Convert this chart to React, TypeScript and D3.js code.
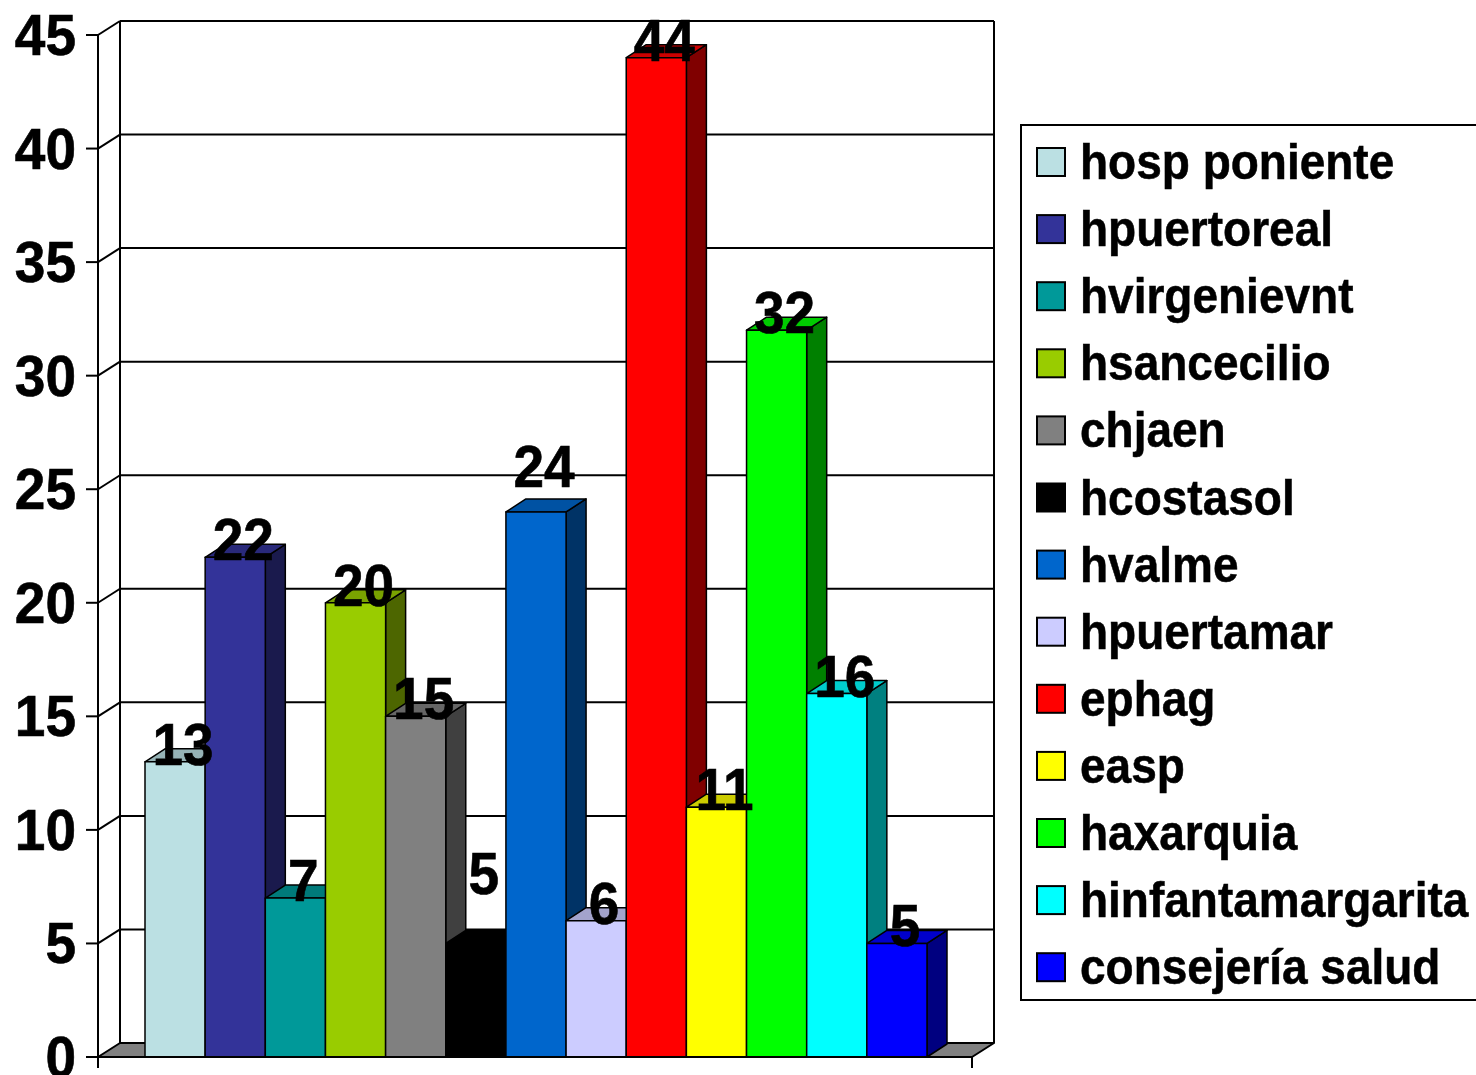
import React from "react";
import * as d3 from "d3";

const categories = [
  "hosp poniente",
  "hpuertoreal",
  "hvirgenievnt",
  "hsancecilio",
  "chjaen",
  "hcostasol",
  "hvalme",
  "hpuertamar",
  "ephag",
  "easp",
  "haxarquia",
  "hinfantamargarita",
  "consejería salud",
];
const values = [13, 22, 7, 20, 15, 5, 24, 6, 44, 11, 32, 16, 5];
const colors = [
  "#BBE0E3",
  "#333399",
  "#009999",
  "#99CC00",
  "#808080",
  "#000000",
  "#0066CC",
  "#CCCCFF",
  "#FF0000",
  "#FFFF00",
  "#00FF00",
  "#00FFFF",
  "#0000FF",
];
const yTicks = [0, 5, 10, 15, 20, 25, 30, 35, 40, 45];

const W = 1476;
const H = 1075;
const FONT = "'Liberation Sans', Arial, Helvetica, sans-serif";

// labels that the original chart placed clear of the bar top
const raisedLabels: Record<string, number> = { hcostasol: 52, hvalme: 28 };

function shade(c: string, k: number) {
  const r = d3.rgb(c);
  return d3.rgb(r.r * k, r.g * k, r.b * k).formatHex();
}

export default function App() {
  const x = d3.scaleBand<string>().domain(categories).range([145, 927]).padding(0);
  const y = d3.scaleLinear().domain([0, 45]).range([1057, 35]);
  const wdx = 22, wdy = -14; // wall depth
  const bdx = 20, bdy = -13; // bar depth
  const axisX = 98;
  const backX = axisX + wdx;
  const rightFront = 972;
  const rightBack = rightFront + wdx;

  const y0 = y(0);
  const y45 = y(45);

  const legendX = 1021;
  const legendY = 125;
  const rowH = 67.1;
  const firstRow = 162;

  return (
    <svg
      width={W}
      height={H}
      viewBox={`0 0 ${W} ${H}`}
      style={{ position: "absolute", left: 0, top: 0, background: "#fff" }}
    >
      {/* back wall gridlines */}
      {yTicks.filter((t) => t > 0).map((t) => (
        <g key={"g" + t}>
          <line x1={backX} x2={rightBack} y1={y(t) + wdy} y2={y(t) + wdy} stroke="#000" strokeWidth={2} />
          <line x1={axisX} x2={backX} y1={y(t)} y2={y(t) + wdy} stroke="#000" strokeWidth={2} />
        </g>
      ))}
      {/* wall verticals */}
      <line x1={backX} x2={backX} y1={y45 + wdy} y2={y0 + wdy} stroke="#000" strokeWidth={2} />
      <line x1={rightBack} x2={rightBack} y1={y45 + wdy} y2={y0 + wdy} stroke="#000" strokeWidth={2} />
      {/* floor */}
      <polygon
        points={`${axisX},${y0} ${rightFront},${y0} ${rightBack},${y0 + wdy} ${backX},${y0 + wdy}`}
        fill="#808080"
        stroke="#000"
        strokeWidth={2}
        strokeLinejoin="round"
      />

      {/* bars */}
      {categories.map((c, i) => {
        const x0 = x(c)!;
        const x1 = x0 + x.bandwidth();
        const yt = y(values[i]);
        const col = colors[i];
        return (
          <g key={"b" + i} stroke="#000" strokeWidth={1.5} strokeLinejoin="round">
            <polygon
              points={`${x1},${yt} ${x1 + bdx},${yt + bdy} ${x1 + bdx},${y0 + bdy} ${x1},${y0}`}
              fill={shade(col, 0.5)}
            />
            <polygon
              points={`${x0},${yt} ${x1},${yt} ${x1 + bdx},${yt + bdy} ${x0 + bdx},${yt + bdy}`}
              fill={shade(col, 0.8)}
            />
            <rect x={x0} y={yt} width={x1 - x0} height={y0 - yt} fill={col} />
          </g>
        );
      })}

      {/* bar value labels */}
      {categories.map((c, i) => {
        const cx = x(c)! + x.bandwidth() / 2 + 8;
        const lift = raisedLabels[c] ?? 0;
        const by = y(values[i]) + 3 - lift;
        return (
          <text
            key={"l" + i}
            transform={`translate(${cx},${by}) scale(1,1.07)`}
            textAnchor="middle"
            fontFamily={FONT}
            fontWeight="bold"
            fontSize={55}
            fill="#000"
            stroke="#000"
            strokeWidth={0.6}
          >
            {values[i]}
          </text>
        );
      })}

      {/* front axis */}
      <line x1={axisX} x2={axisX} y1={y45} y2={y0 + 11} stroke="#000" strokeWidth={2} />
      <line x1={axisX} x2={rightFront} y1={y0} y2={y0} stroke="#000" strokeWidth={2} />
      <line x1={rightFront} x2={rightFront} y1={y0} y2={y0 + 11} stroke="#000" strokeWidth={2} />
      {yTicks.map((t) => (
        <g key={"t" + t}>
          <line x1={axisX - 12} x2={axisX} y1={y(t)} y2={y(t)} stroke="#000" strokeWidth={2} />
          <text
            transform={`translate(76,${y(t) + 20}) scale(1,1.05)`}
            textAnchor="end"
            fontFamily={FONT}
            fontWeight="bold"
            fontSize={55}
            fill="#000"
            stroke="#000"
            strokeWidth={0.6}
          >
            {t}
          </text>
        </g>
      ))}

      {/* legend */}
      <rect x={legendX} y={legendY} width={W - legendX + 20} height={1000 - legendY} fill="#fff" stroke="#000" strokeWidth={2} />
      {categories.map((c, i) => {
        const cy = firstRow + i * rowH;
        return (
          <g key={"lg" + i}>
            <rect x={1037} y={cy - 14} width={28} height={28} fill={colors[i]} stroke="#000" strokeWidth={2} />
            <text
              transform={`translate(1080,${cy + 17}) scale(1,1.1)`}
              fontFamily={FONT}
              fontWeight="bold"
              fontSize={46}
              fill="#000"
              stroke="#000"
              strokeWidth={0.5}
            >
              {c}
            </text>
          </g>
        );
      })}
    </svg>
  );
}
